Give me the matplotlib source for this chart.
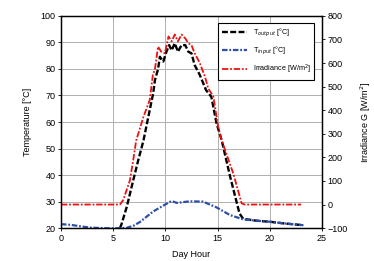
import matplotlib
matplotlib.use("Agg")
import matplotlib.pyplot as plt

plt.rcParams['font.family'] = ['Liberation Sans', 'DejaVu Sans']

# T_output [°C]
out_h = [5.65, 5.8, 6.3, 6.92, 7.4, 7.9, 8.5, 8.83, 9.0, 9.3, 9.47, 9.8, 10.1, 10.36,
         10.6, 10.9, 11.2, 11.55, 11.9, 12.2, 12.5, 12.8, 13.3, 13.9, 14.4, 14.9,
         15.4, 16.2, 17.1, 17.45, 18.7, 20.0, 21.3, 23.2]
out_t = [20.0, 21.5, 28.0, 38.0, 45.6, 53.0, 64.5, 70.8, 75.8, 80.0, 84.6, 82.8, 86.5, 89.0,
         87.0, 89.7, 86.5, 89.0, 89.0, 86.5, 85.9, 81.5, 77.7, 72.0, 69.5, 59.5,
         53.0, 39.4, 25.5, 23.5, 22.8, 22.4, 21.8, 21.1]

# T_input [°C]
in_h = [0.0, 1.0, 2.0, 2.8, 4.0, 5.0, 6.3, 7.0, 7.6, 8.8, 9.5, 10.3, 10.6, 11.1, 12.3,
        13.6, 14.9, 16.2, 17.45, 18.7, 20.0, 21.3, 23.2]
in_t = [21.5, 21.2, 20.6, 20.2, 20.0, 19.9, 20.1, 21.0, 22.4, 26.2, 27.8, 29.6, 30.2, 29.5, 30.1,
        30.0, 27.8, 24.9, 23.3, 22.8, 22.4, 21.8, 21.1]

# Irradiance [W/m2]
irr_h = [0.0, 5.65, 5.96, 6.6, 6.92, 7.2, 7.9, 8.5, 8.8, 9.0, 9.3, 9.6, 9.95, 10.3, 10.6,
         10.9, 11.2, 11.55, 11.9, 12.2, 12.5, 12.8, 13.3, 13.8, 14.1, 14.6, 15.05, 15.4,
         16.5, 17.3, 17.6, 23.0]
irr_g = [0, 0, 19, 102, 188, 271, 372, 443, 549, 575, 670, 648, 642, 713, 692,
         721, 692, 721, 705, 684, 676, 642, 600, 541, 493, 457, 330, 271,
         132, 5, 0, 0]

x_ticks = [0, 5, 10, 15, 20, 25]
y_ticks = [20, 30, 40, 50, 60, 70, 80, 90, 100]
y2_ticks = [-100, 0, 100, 200, 300, 400, 500, 600, 700, 800]

fig = plt.figure(figsize=(3.74, 2.61), dpi=100)
ax = fig.add_axes([0.163, 0.126, 0.698, 0.813])
ax2 = ax.twinx()

fs = 6.5
l1, = ax.plot(out_h, out_t, color='black', linestyle='--', linewidth=1.7, dashes=(2.5, 1.0),
              label=r'T$_{output}$ [°C]')
l2, = ax.plot(in_h, in_t, color='#2e4fa8', linestyle='-.', linewidth=1.6, dashes=(2.5, 0.8, 0.8, 0.8),
              label=r'T$_{input}$ [°C]')
l3, = ax2.plot(irr_h, irr_g, color='#ee1111', linestyle='-.', linewidth=1.3, dashes=(3.5, 1.0, 1.0, 1.0),
               label=r'Irradiance [W/m$^2$]')

ax.set_xlim(0, 25)
ax.set_ylim(20, 100)
ax2.set_ylim(-100, 800)
ax.set_xticks(x_ticks)
ax.set_yticks(y_ticks)
ax2.set_yticks(y2_ticks)
ax.grid(True, color='#b0b0b0', linewidth=0.7)
ax.set_axisbelow(True)

for a in (ax, ax2):
    a.tick_params(labelsize=fs, length=2, width=0.6, pad=2)
    for s in a.spines.values():
        s.set_linewidth(0.9)

ax.set_xlabel('Day Hour', fontsize=fs, labelpad=5)
ax.set_ylabel('Temperature [°C]', fontsize=fs, labelpad=6)
ax2.set_ylabel(r'Irradiance G [W/m$^2$]', fontsize=fs, labelpad=8)

leg = ax2.legend(handles=[l1, l2, l3], loc='upper right', fontsize=5.2,
                 bbox_to_anchor=(0.985, 0.985), fancybox=False, framealpha=1,
                 edgecolor='black', handlelength=3.5, borderpad=0.5, labelspacing=0.8)
leg.get_frame().set_linewidth(0.8)

fig.savefig('out.png', dpi=100)
